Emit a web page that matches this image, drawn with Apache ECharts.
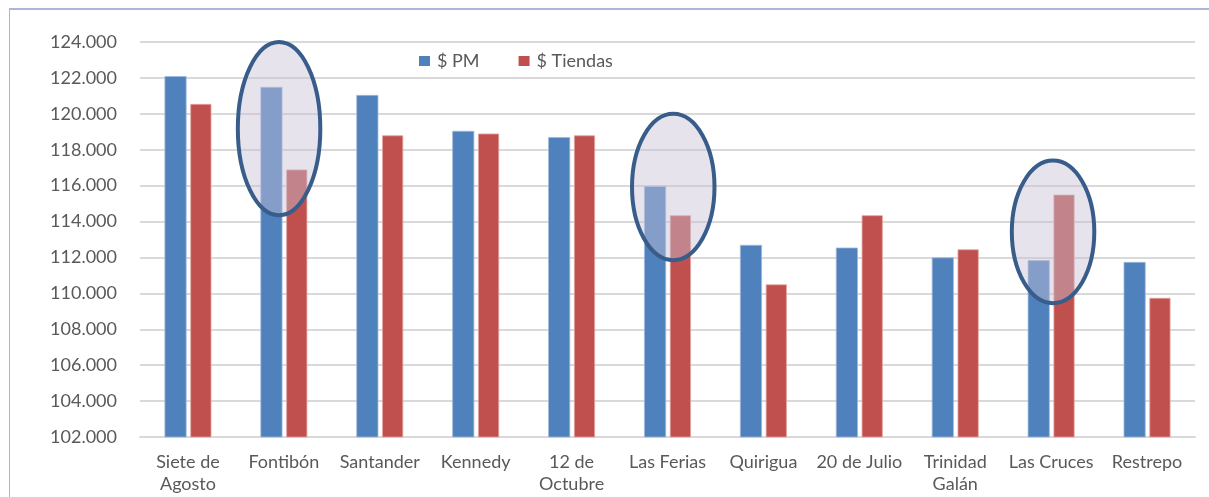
<!DOCTYPE html>
<html>
<head>
<meta charset="utf-8">
<script src="https://cdn.jsdelivr.net/npm/echarts@6/dist/echarts.min.js"></script>
<style>
html,body{margin:0;padding:0;background:#fff;}
#frame{position:absolute;left:9px;top:8px;width:1220px;height:520px;border-left:1.5px solid #a9b7dc;border-top:2px solid #a9b7dc;box-sizing:border-box;}
#chart{position:absolute;left:0;top:0;width:1209px;height:497px;}
</style>
</head>
<body>
<div id="frame"></div>
<div id="chart"></div>
<script>
const categories = ['Siete de\nAgosto','Fontibón','Santander','Kennedy','12 de\nOctubre','Las Ferias','Quirigua','20 de Julio','Trinidad\nGalán','Las Cruces','Restrepo'];
const seriesNames = ['$ PM','$ Tiendas'];
const pmValues = [122100,121500,121050,119050,118700,115980,112700,112550,112000,111850,111750];
const tiendasValues = [120550,116900,118800,118900,118800,114350,110500,114350,112450,115500,109750];
const yTicks = {min:102000, max:124000, interval:2000};
// highlighted categories: [category index, value at top of ellipse, value at bottom, x offset in categories]
const highlights = [
  [1, 124000, 114350, -0.05],
  [5, 120000, 111850, 0.06],
  [9, 117400, 109450, 0.02]
];

const chart = echarts.init(document.getElementById('chart'), null, {renderer:'canvas'});
const FONT = 'Lato';
const labelColor = '#595959';
const option = {
  animation:false,
  backgroundColor:'transparent',
  textStyle:{fontFamily:FONT},
  legend:{
    data:seriesNames,
    top:47, left:414,
    itemWidth:11, itemHeight:10, itemGap:39,
    icon:'rect',
    itemStyle:{borderWidth:0},
    textStyle:{color:labelColor, fontSize:18, fontFamily:FONT, padding:[0,0,0,2]}
  },
  grid:{left:140, right:14, top:42, bottom:60},
  xAxis:{
    type:'category', data:categories,
    axisLine:{lineStyle:{color:'#d9d9d9', width:2}},
    axisTick:{show:false},
    axisLabel:{color:labelColor, fontSize:18, fontFamily:FONT, lineHeight:22, margin:14, interval:0}
  },
  yAxis:{
    type:'value', min:yTicks.min, max:yTicks.max, interval:yTicks.interval,
    axisLine:{show:false}, axisTick:{show:false},
    splitLine:{lineStyle:{color:'#d9d9d9', width:2}},
    axisLabel:{color:labelColor, fontSize:18, fontFamily:FONT, margin:23,
      formatter:v => (v/1000).toFixed(3)}
  },
  series:[
    {name:seriesNames[0], type:'bar', data:pmValues, barWidth:'23%', barGap:'17%',
      itemStyle:{color:'#4f81bd', borderColor:'#9fb8dc', borderWidth:0.8}},
    {name:seriesNames[1], type:'bar', data:tiendasValues, barWidth:'22%', barGap:'17%',
      itemStyle:{color:'#c0504d', borderColor:'#e3a3a2', borderWidth:0.8}}
  ]
};
chart.setOption(option);

function drawHighlights(){
  const step = chart.convertToPixel({xAxisIndex:0}, 1) - chart.convertToPixel({xAxisIndex:0}, 0);
  const graphics = highlights.map(h => {
    const cx = chart.convertToPixel({xAxisIndex:0}, h[0]) + h[3]*step;
    const yT = chart.convertToPixel({yAxisIndex:0}, h[1]);
    const yB = chart.convertToPixel({yAxisIndex:0}, h[2]);
    return {
      type:'ellipse', z:100,
      shape:{cx:cx, cy:(yT+yB)/2, rx:step*0.43, ry:(yB-yT)/2},
      style:{fill:'rgba(200,192,214,0.45)', stroke:'#385d8a', lineWidth:4}
    };
  });
  chart.setOption({graphic:graphics});
}
drawHighlights();
</script>
</body>
</html>
